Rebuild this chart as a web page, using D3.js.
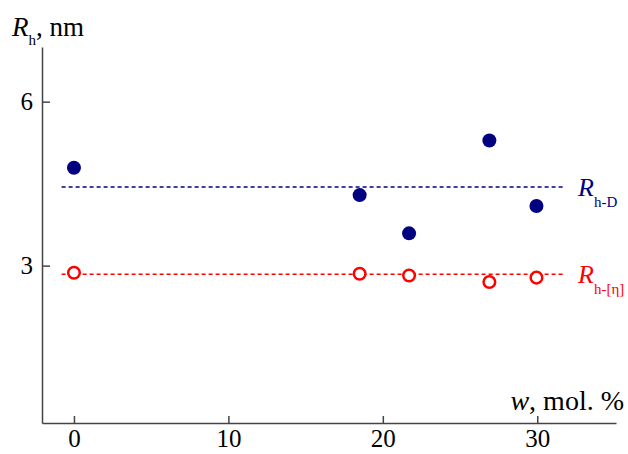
<!DOCTYPE html>
<html><head><meta charset="utf-8">
<script src="https://cdn.jsdelivr.net/npm/d3@7/dist/d3.min.js"></script>
<style>body{margin:0;background:#fff}svg{display:block}text{font-family:"Liberation Serif","Times New Roman",serif}</style>
</head><body><svg id="c" width="628" height="454"></svg>
<script>
const wValues = [0, 18.5, 21.7, 26.9, 29.95];
const rhD = [4.79, 4.29, 3.59, 5.29, 4.09];
const rhEta = [2.87, 2.85, 2.82, 2.70, 2.78];
const meanD = 4.44;
const meanEta = 2.84;
const lineSpan = [-0.8, 31.8];
const xTicks = [0, 10, 20, 30];
const yTicks = [3, 6];

const FONT = "'Liberation Serif', 'Times New Roman', serif";
const svg = d3.select("#c");
const x = d3.scaleLinear().domain([-2.07, 35.1]).range([42, 616]);
const y = d3.scaleLinear().domain([0.12, 7.0]).range([423, 47]);
const axisCol = "#444";
const blue = "#000080", red = "#ff0000";

// axes
const xa = svg.append("g").attr("transform", "translate(0,423)")
  .call(d3.axisBottom(x).tickValues(xTicks).tickFormat(d3.format("d")).tickSizeInner(-7).tickSizeOuter(0).tickPadding(6));
const ya = svg.append("g").attr("transform", "translate(42,0)")
  .call(d3.axisLeft(y).tickValues(yTicks).tickFormat(d3.format("d")).tickSizeInner(-8).tickSizeOuter(0).tickPadding(9));
[xa, ya].forEach(g => {
  g.attr("font-family", FONT).attr("font-size", 25);
  g.select(".domain").attr("stroke", axisCol).attr("stroke-width", 1.5);
  g.selectAll(".tick line").attr("stroke", axisCol).attr("stroke-width", 1.5);
  g.selectAll(".tick text").style("font-family", FONT).style("font-size", "25px").attr("fill", "#000");
});
ya.selectAll(".tick text").attr("dy", "0.32em");

// mean lines
svg.append("line").attr("x1", x(lineSpan[0])).attr("x2", x(lineSpan[1]))
  .attr("y1", y(meanD)).attr("y2", y(meanD))
  .attr("stroke", blue).attr("stroke-width", 1.5).attr("stroke-dasharray", "4,3");
svg.append("line").attr("x1", x(lineSpan[0])).attr("x2", x(lineSpan[1]))
  .attr("y1", y(meanEta)).attr("y2", y(meanEta))
  .attr("stroke", red).attr("stroke-width", 1.5).attr("stroke-dasharray", "4,3");

// points
svg.selectAll("circle.d").data(wValues).join("circle").attr("class", "d")
  .attr("cx", d => x(d)).attr("cy", (d, i) => y(rhD[i])).attr("r", 7).attr("fill", blue);
svg.selectAll("circle.e").data(wValues).join("circle").attr("class", "e")
  .attr("cx", d => x(d)).attr("cy", (d, i) => y(rhEta[i])).attr("r", 5.8)
  .attr("fill", "#fff").attr("stroke", red).attr("stroke-width", 2.5);

// y label
const yl = svg.append("text").attr("x", 12).attr("y", 36).attr("font-size", 27).attr("fill", "#000");
yl.append("tspan").attr("font-style", "italic").text("R");
yl.append("tspan").attr("font-size", 15).attr("dy", 9).text("h");
yl.append("tspan").attr("dy", -9).text(", nm");

// x label
const xl = svg.append("text").attr("x", 624).attr("y", 410).attr("text-anchor", "end").attr("font-size", 28).attr("fill", "#000");
xl.append("tspan").attr("font-style", "italic").text("w");
xl.append("tspan").text(", mol. %");

// right labels
const lD = svg.append("text").attr("x", 578).attr("y", y(meanD) + 9).attr("font-size", 26).attr("fill", blue);
lD.append("tspan").attr("font-style", "italic").text("R");
lD.append("tspan").attr("font-size", 15).attr("dy", 11).text("h-D");
const lE = svg.append("text").attr("x", 578).attr("y", y(meanEta) + 9).attr("font-size", 26).attr("fill", red);
lE.append("tspan").attr("font-style", "italic").text("R");
lE.append("tspan").attr("font-size", 15).attr("dy", 11).text("h-[η]");
</script></body></html>
